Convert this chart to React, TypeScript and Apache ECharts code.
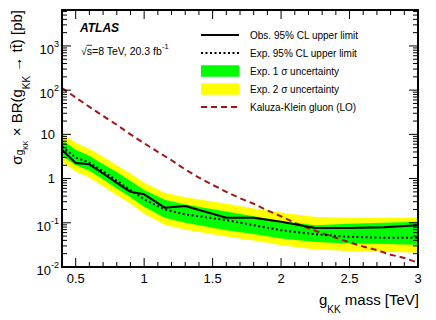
import React, { useEffect, useRef } from 'react';
import * as echarts from 'echarts';

// ---- data ----
const MASS = [0.4, 0.5, 0.6, 0.7, 0.8, 0.9, 1.0, 1.15, 1.3, 1.6, 1.8, 2.0, 2.25, 2.5, 2.75, 3.0];
const OBS = [4.5, 2.25, 2.1, 1.3, 0.8, 0.5, 0.44, 0.22, 0.24, 0.13, 0.13, 0.105, 0.076, 0.076, 0.079, 0.088];
const EXP = [5.3, 3.0, 2.3, 1.45, 0.9, 0.55, 0.34, 0.2, 0.155, 0.115, 0.088, 0.068, 0.055, 0.048, 0.046, 0.046];
const UP2 = [10.5, 6.5, 4.7, 3.1, 2.0, 1.3, 0.8, 0.48, 0.38, 0.27, 0.21, 0.17, 0.135, 0.13, 0.13, 0.13];
const UP1 = [7.5, 4.5, 3.3, 2.1, 1.4, 0.88, 0.55, 0.33, 0.26, 0.18, 0.14, 0.11, 0.088, 0.095, 0.1, 0.105];
const DN1 = [3.3, 2.0, 1.5, 0.95, 0.6, 0.38, 0.23, 0.13, 0.1, 0.068, 0.056, 0.044, 0.037, 0.034, 0.033, 0.032];
const DN2 = [2.4, 1.45, 1.05, 0.67, 0.42, 0.27, 0.16, 0.09, 0.07, 0.049, 0.04, 0.031, 0.025, 0.023, 0.022, 0.021];

const KK_MASS = [0.4, 0.5, 0.6, 0.7, 0.8, 0.9, 1.0, 1.1, 1.2, 1.3, 1.4, 1.5, 1.6, 1.7, 1.8, 1.9, 2.0, 2.1, 2.2, 2.3, 2.4, 2.5, 2.6, 2.7, 2.8, 2.9, 3.0];
const KK_XS = [112, 68, 42, 26, 16.5, 10, 6.3, 4.0, 2.6, 1.6, 1.05, 0.72, 0.5, 0.36, 0.27, 0.19, 0.14, 0.1, 0.075, 0.058, 0.046, 0.036, 0.029, 0.024, 0.019, 0.016, 0.0125];

const X_LABELS = [0.5, 1, 1.5, 2, 2.5, 3];
const X_MIN = 0.4;
const X_MAX = 3.0;
const Y_MIN = 0.01;
const Y_MAX = 6500;

const LEGEND = [
  'Obs. 95% CL upper limit',
  'Exp. 95% CL upper limit',
  'Exp. 1 \u03c3 uncertainty',
  'Exp. 2 \u03c3 uncertainty',
  'Kaluza-Klein gluon (LO)',
];

const FONT = '"Liberation Sans", Arial, Helvetica, sans-serif';
const RED = '#a31414';

const pairs = (xs: number[], ys: number[]) => xs.map((x, i) => [x, ys[i]]);

const band = (name: string, hi: number[], lo: number[], color: string) => ({
  type: 'custom',
  name,
  silent: true,
  clip: true,
  data: [[MASS[0], lo[0]]],
  renderItem: (_p: any, api: any) => {
    const top = MASS.map((m, i) => api.coord([m, hi[i]]));
    const bot = MASS.map((m, i) => api.coord([m, lo[i]])).reverse();
    return { type: 'polygon', shape: { points: top.concat(bot) }, style: { fill: color, stroke: 'none' } };
  },
});

export default function App() {
  const ref = useRef<HTMLDivElement>(null);
  useEffect(() => {
    if (!ref.current) return;
    const chart = echarts.init(ref.current, null, { renderer: 'svg' });
    chart.setOption({
      animation: false,
      grid: { left: 62, top: 10, width: 356, height: 257 },
      xAxis: {
        type: 'value',
        min: X_MIN,
        max: X_MAX,
        axisLine: { show: false },
        axisTick: { show: false },
        splitLine: { show: false },
        axisLabel: {
          customValues: X_LABELS,
          margin: 5,
          color: '#000',
          fontSize: 13,
          fontFamily: FONT,
          formatter: (v: number) => (Math.abs(v * 2 - Math.round(v * 2)) < 1e-6 ? String(v) : ''),
        },
      },
      yAxis: {
        type: 'log',
        logBase: 10,
        min: Y_MIN,
        max: Y_MAX,
        axisLine: { show: false },
        axisTick: { show: false },
        splitLine: { show: false },
        minorTick: { show: false },
        axisLabel: {
          showMaxLabel: false,
          margin: 3,
          color: '#000',
          fontSize: 13,
          fontFamily: FONT,
          formatter: (v: number) => {
            const l = Math.log10(v);
            const e = Math.round(l);
            if (Math.abs(l - e) > 0.01) return '';
            if (e === 0) return '{p|1}';
            if (e === 1) return '{p|10}';
            return `{b|10}{s|${e}}`;
          },
          rich: {
            p: { fontSize: 13, fontFamily: FONT, color: '#000', padding: [0, 4, 0, 0] },
            b: { fontSize: 13, fontFamily: FONT, color: '#000', verticalAlign: 'top', padding: [6.5, 0, 0, 0] },
            s: { fontSize: 9, fontFamily: FONT, color: '#000', verticalAlign: 'top', padding: [3.5, 0, 0, 0] },
          },
        },
      },
      series: [
        band(LEGEND[3], UP2, DN2, '#ffff00'),
        band(LEGEND[2], UP1, DN1, '#00ff00'),
        {
          type: 'line', name: LEGEND[4], data: pairs(KK_MASS, KK_XS), symbol: 'none',
          lineStyle: { color: RED, width: 2, type: [6, 4] },
        },
        {
          type: 'line', name: LEGEND[1], data: pairs(MASS, EXP), symbol: 'none',
          lineStyle: { color: '#000', width: 2, type: [2, 2.5] },
        },
        {
          type: 'line', name: LEGEND[0], data: pairs(MASS, OBS), symbol: 'none',
          lineStyle: { color: '#000', width: 2 },
        },
      ],
    });

    const gx = (v: number) => chart.convertToPixel({ xAxisIndex: 0 }, v) as unknown as number;
    const gy = (v: number) => chart.convertToPixel({ yAxisIndex: 0 }, v) as unknown as number;
    const x0 = gx(X_MIN), x1 = gx(X_MAX), y0 = gy(Y_MAX), y1 = gy(Y_MIN);
    const els: any[] = [];
    const ln = (a: number, b: number, c: number, d: number, w = 1) => ({
      type: 'line', z: 50, silent: true,
      shape: { x1: a, y1: b, x2: c, y2: d }, style: { stroke: '#000', lineWidth: w },
    });
    for (let i = 4; i <= 30; i++) {
      const v = i / 10;
      const px = gx(v);
      const len = i % 5 === 0 ? 9 : 5;
      els.push(ln(px, y1, px, y1 - len));
      els.push(ln(px, y0, px, y0 + len));
    }
    for (let e = -2; e <= 3; e++) {
      for (let m = 1; m <= 9; m++) {
        const v = m * Math.pow(10, e);
        if (v > Y_MAX) break;
        const py = gy(v);
        const len = m === 1 ? 9 : 5;
        els.push(ln(x0, py, x0 + len, py));
        els.push(ln(x1, py, x1 - len, py));
      }
    }
    els.push({
      type: 'rect', z: 60, silent: true,
      shape: { x: x0, y: y0, width: x1 - x0, height: y1 - y0 },
      style: { fill: 'none', stroke: '#000', lineWidth: 2 },
    });

    // legend
    const rows = [35, 53, 71, 89, 107];
    const lx0 = 201, lx1 = 239;
    els.push({ type: 'line', shape: { x1: lx0, y1: rows[0], x2: lx1, y2: rows[0] }, style: { stroke: '#000', lineWidth: 2 } });
    els.push({ type: 'line', shape: { x1: lx0, y1: rows[1], x2: lx1, y2: rows[1] }, style: { stroke: '#000', lineWidth: 2, lineDash: [2, 2.5] } });
    els.push({ type: 'rect', shape: { x: lx0, y: rows[2] - 5.75, width: lx1 - lx0, height: 11.5 }, style: { fill: '#00ff00' } });
    els.push({ type: 'rect', shape: { x: lx0, y: rows[3] - 5.75, width: lx1 - lx0, height: 11.5 }, style: { fill: '#ffff00' } });
    els.push({ type: 'line', shape: { x1: lx0, y1: rows[4], x2: lx1, y2: rows[4] }, style: { stroke: RED, lineWidth: 2, lineDash: [6, 4] } });
    LEGEND.forEach((t, i) => {
      els.push({
        type: 'text', x: 250, y: rows[i],
        style: { text: t, fill: '#000', fontSize: 10, fontFamily: FONT, align: 'left', verticalAlign: 'middle' },
      });
    });

    // labels
    els.push({
      type: 'text', x: 80, y: 28,
      style: { text: 'ATLAS', fill: '#000', fontSize: 12, fontWeight: 'bold', fontStyle: 'italic', fontFamily: FONT, align: 'left', verticalAlign: 'middle' },
    });
    els.push({
      type: 'text', x: 81, y: 42.5,
      style: {
        text: '{m|\u221as=8 TeV, 20.3 fb}{u|-1}', align: 'left', verticalAlign: 'top',
        rich: {
          m: { fontSize: 10.5, fontFamily: FONT, fill: '#000', verticalAlign: 'top', padding: [3, 0, 0, 0] },
          u: { fontSize: 7.5, fontFamily: FONT, fill: '#000', verticalAlign: 'top', padding: [0, 0, 0, 0] },
        },
      },
    });
    // overline of the square root
    els.push({ type: 'line', shape: { x1: 86.5, y1: 45.3, x2: 92, y2: 45.3 }, style: { stroke: '#000', lineWidth: 0.8 } });
    // x title
    els.push({
      type: 'text', x: 419, y: 292,
      style: {
        text: '{m|g}{s|KK}{m| mass [TeV]}', align: 'right', verticalAlign: 'top',
        rich: {
          m: { fontSize: 15, fontFamily: FONT, fill: '#000', verticalAlign: 'top' },
          s: { fontSize: 10, fontFamily: FONT, fill: '#000', verticalAlign: 'top', padding: [12.5, 0, 0, 0] },
        },
      },
    });
    // y title
    els.push({
      type: 'text', x: 9, y: 10, rotation: Math.PI / 2,
      style: {
        text: '{m|\u03c3}{a|g}{b|KK}{m| \u00d7 BR(g}{c|KK}{m| \u2192 t}{m|t\u0304}{m|) [pb]}',
        align: 'right', verticalAlign: 'top',
        rich: {
          m: { fontSize: 15, fontFamily: FONT, fill: '#000', verticalAlign: 'top' },
          a: { fontSize: 10, fontFamily: FONT, fill: '#000', verticalAlign: 'top', padding: [5.5, 0, 0, 0] },
          b: { fontSize: 7, fontFamily: FONT, fill: '#000', verticalAlign: 'top', padding: [13, 0, 0, 0] },
          c: { fontSize: 10, fontFamily: FONT, fill: '#000', verticalAlign: 'top', padding: [12.5, 0, 0, 0] },
        },
      },
    });

    chart.setOption({ graphic: els });
    return () => chart.dispose();
  }, []);
  return <div ref={ref} style={{ position: 'fixed', left: 0, top: 0, width: 436, height: 320, background: '#fff' }} />;
}
